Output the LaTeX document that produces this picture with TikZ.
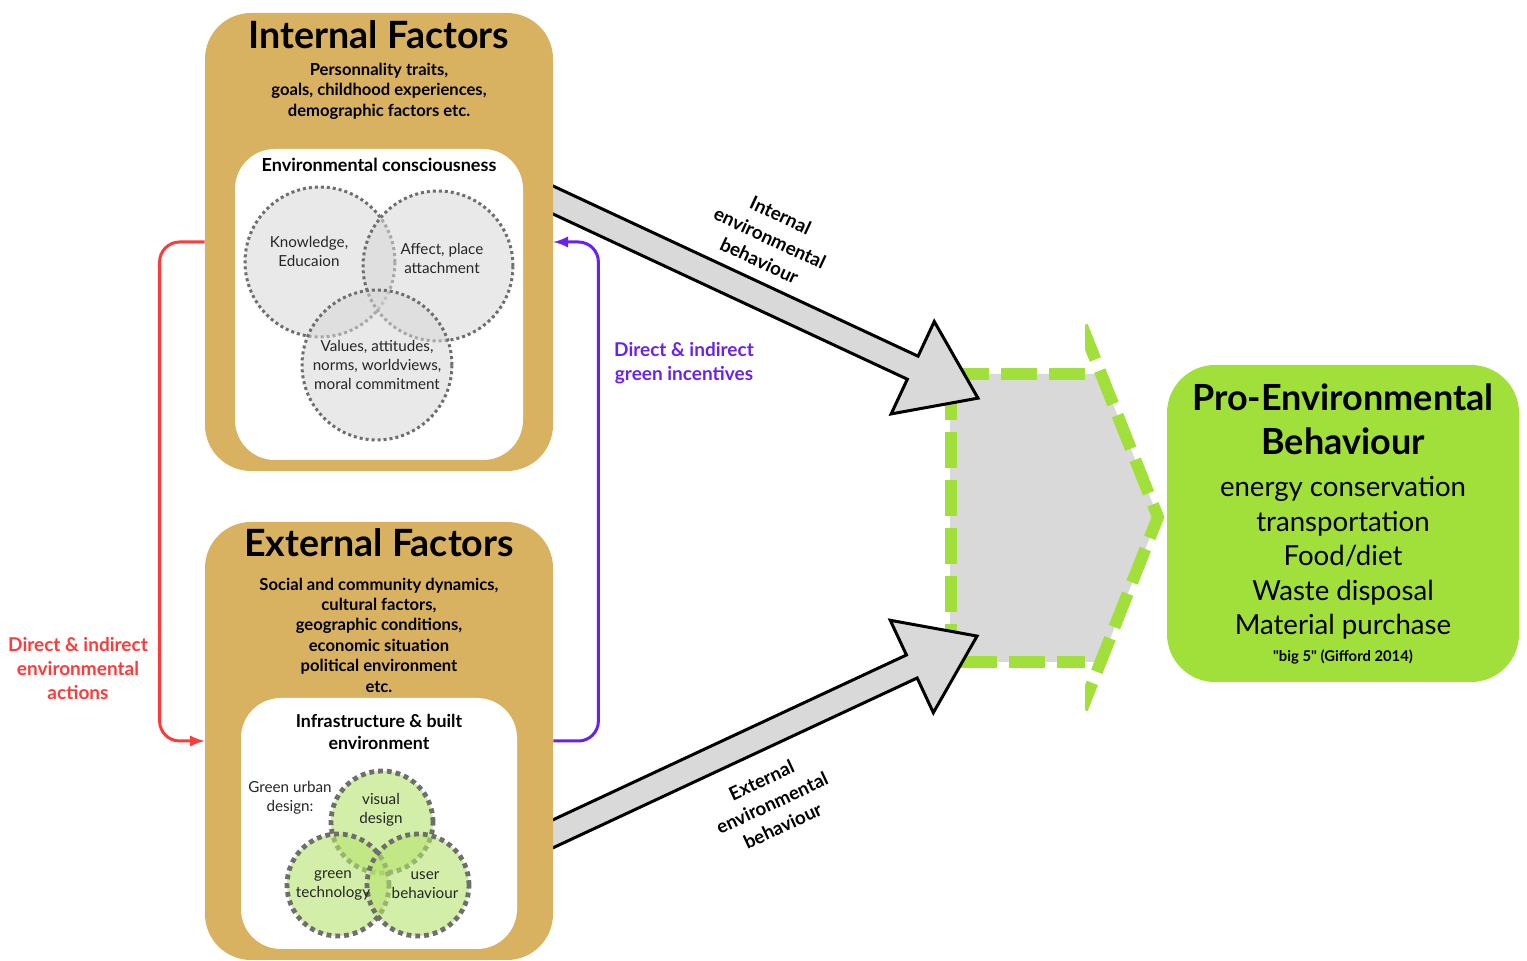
\documentclass[tikz,border=0pt]{standalone}
\usepackage{fontspec}
\setmainfont{Lato}
\usetikzlibrary{positioning}
\definecolor{factortan}{RGB}{216,178,96}
\definecolor{pebgreen}{RGB}{161,223,58}
\definecolor{arrowgray}{RGB}{217,217,217}
\definecolor{dotgray}{RGB}{110,110,110}
\definecolor{vennfill}{RGB}{215,215,215}
\definecolor{venngreen}{RGB}{183,228,110}
\definecolor{actred}{RGB}{255,58,58}
\definecolor{incpurple}{RGB}{104,34,240}
\tikzset{
  factorbox/.style={fill=factortan,rounded corners=23pt,minimum width=174pt,inner sep=0pt},
  innerbox/.style={fill=white,rounded corners=20pt,inner sep=0pt},
  headline/.style={font=\fontsize{18.8}{20}\selectfont\bfseries},
  subtext/.style={font=\fontsize{8.3}{10.2}\selectfont\bfseries,align=center},
  venn/.style={circle,draw=dotgray,line width=1.5pt,dash pattern=on 1.5pt off 1.5pt,
    fill=vennfill,fill opacity=.55,minimum size=75pt,inner sep=0pt},
  greenvenn/.style={venn,line width=2.4pt,dash pattern=on 2.4pt off 2pt,
    fill=venngreen,fill opacity=.6,minimum size=51pt},
  venntext/.style={font=\fontsize{7.6}{9.5}\selectfont,align=center,text=black!85},
  greendash/.style={draw=pebgreen,line width=6pt,dash pattern=on 18pt off 6pt},
  bigarrow/.style={draw=black,fill=arrowgray,line width=1.5pt},
  arrowlabel/.style={font=\fontsize{9.4}{12.5}\selectfont\bfseries,align=center},
  linklabel/.style={font=\fontsize{9.5}{12}\selectfont\bfseries,align=center},
}
\begin{document}
\begin{tikzpicture}[x=0.5pt,y=-0.5pt,>=latex]
\useasboundingbox (0,0) rectangle (1527,961);
% chevron in the middle
\fill[arrowgray] (950,374)--(1101,374)--(1158,517)--(1101,662)--(950,662)--cycle;
\draw[greendash] (1085,374)--(951,374)--(951,662)--(1085,662);
\begin{scope}
\clip (1085,320) rectangle (1200,715);
\draw[greendash] (1082,326)--(1158,517)--(1082,709);
\end{scope}
% the two big arrows
\foreach \sy/\ang/\len in {184.6/-25/505.3,849.2/25/504.3}
{
  \begin{scope}[shift={(520,\sy)},rotate=\ang]
  \draw[bigarrow] (0,-12.7)--(\len-72,-12.7)--(\len-72,-51)--(\len,0)
    --(\len-72,51)--(\len-72,12.7)--(0,12.7)--cycle;
  \end{scope}
}
\node[arrowlabel,rotate=-25] (inlabel) at (770,238) {Internal\\environmental\\behaviour};
\node[arrowlabel,rotate=25] (exlabel) at (772,803) {External\\environmental\\behaviour};
% internal factors
\node[factorbox,minimum height=229pt] (inbox) at (379,242) {};
\node[headline] (intitle) at (379,35) {Internal Factors};
\node[subtext] (insub) at (379,91) {Personnality traits,\\goals, childhood experiences,\\demographic factors etc.};
\node[innerbox,minimum width=144pt,minimum height=155.5pt] (consc) at (379,304.5) {};
\node[subtext,font=\fontsize{9}{10}\selectfont\bfseries] (consctitle) at (379,165) {Environmental consciousness};
\node[venn] (know) at (320,262) {};
\node[venn] (affect) at (438,266) {};
\node[venn] (values) at (377,365) {};
\node[venntext] at (309,251) {Knowledge,\\Educaion};
\node[venntext] at (442,258) {Affect, place\\attachment};
\node[venntext] at (377,365) {Values, attitudes,\\norms, worldviews,\\moral commitment};
% external factors
\node[factorbox,minimum height=219pt] (exbox) at (379,741) {};
\node[headline] (extitle) at (379,543) {External Factors};
\node[subtext] (exsub) at (379,635) {Social and community dynamics,\\cultural factors,\\geographic conditions,\\economic situation\\political environment\\etc.};
\node[innerbox,minimum width=138pt,minimum height=125.5pt] (infra) at (379,823.5) {};
\node[subtext,font=\fontsize{8.9}{11}\selectfont\bfseries] (infratitle) at (379,732) {Infrastructure \& built\\environment};
\node[venntext] (urban) at (290,798) {Green urban\\design:};
\node[greenvenn] (visual) at (382,822) {};
\node[greenvenn] (tech) at (338,885) {};
\node[greenvenn] (user) at (418,885) {};
\node[venntext] at (381,810) {visual\\design};
\node[venntext] at (333,885) {green\\technology};
\node[venntext] at (425,885) {user\\behaviour};
% pro-environmental behaviour
\node[fill=pebgreen,rounded corners=24pt,minimum width=176pt,minimum height=158.5pt] (pro) at (1343,523.5) {};
\node[headline,align=center,font=\fontsize{18}{22}\selectfont\bfseries] (protitle) at (1343,419) {Pro-Environmental\\Behaviour};
\node[align=center,font=\fontsize{13.8}{17.25}\selectfont] (proitems) at (1343,558) {energy conservation\\transportation\\Food/diet\\Waste disposal\\Material purchase};
\node[font=\fontsize{7.4}{8}\selectfont\bfseries] (big5) at (1343,657) {\textquotedbl big 5\textquotedbl{} (Gifford 2014)};
% connectors
\draw[actred,line width=1.5pt,->,rounded corners=10pt] (inbox.west) -- ++(-45,0) |- (exbox.west);
\draw[incpurple,line width=1.5pt,->,rounded corners=10pt] (exbox.east) -- ++(45,0) |- (inbox.east);
\node[linklabel,text=actred] (actlabel) at (78,669) {Direct \& indirect\\environmental\\actions};
\node[linklabel,text=incpurple] (inclabel) at (684,363) {Direct \& indirect\\green incentives};
\end{tikzpicture}
\end{document}
